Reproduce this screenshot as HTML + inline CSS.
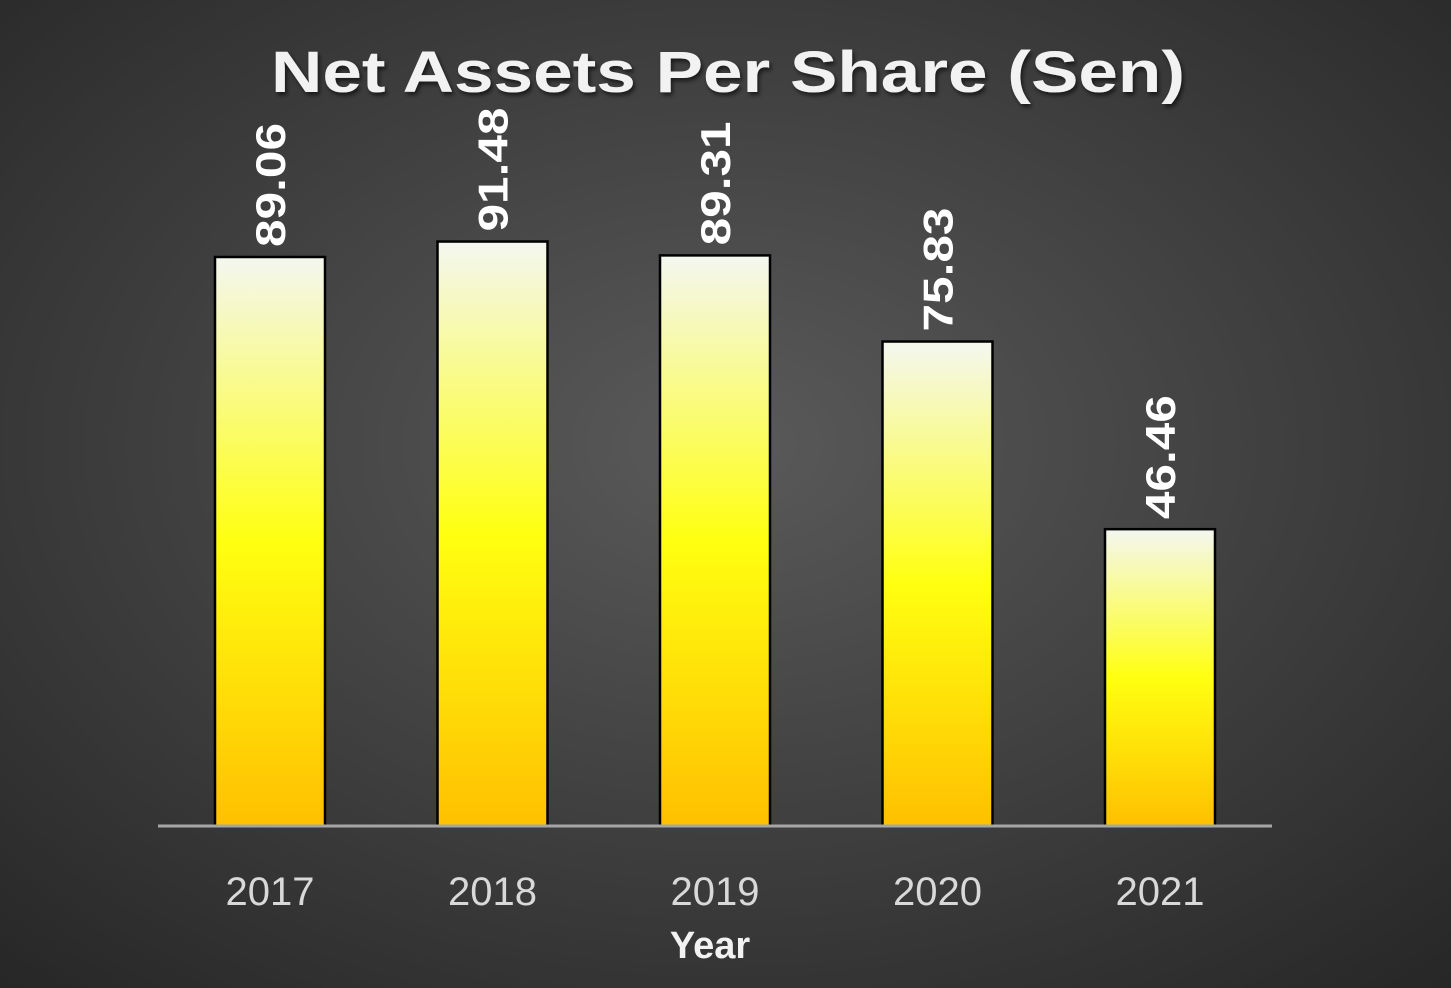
<!DOCTYPE html>
<html><head><meta charset="utf-8"><style>
html,body{margin:0;padding:0;width:1451px;height:988px;overflow:hidden;background:#333;}
svg{display:block;font-family:"Liberation Sans",sans-serif;}
</style></head><body>
<svg id="chart" width="1451" height="988" viewBox="0 0 1451 988" xmlns="http://www.w3.org/2000/svg">
<defs>
<radialGradient id="bg" cx="50%" cy="45%" r="75%">
<stop offset="0" stop-color="#5a5a5a"/><stop offset="1" stop-color="#262626"/>
</radialGradient>
<linearGradient id="barg" x1="0" y1="0" x2="0" y2="1">
<stop offset="0" stop-color="#f4f7f0"/><stop offset="0.5" stop-color="#ffff10"/><stop offset="1" stop-color="#ffc000"/>
</linearGradient>
<filter id="sh"><feDropShadow dx="2" dy="3" stdDeviation="2" flood-color="#000" flood-opacity="0.6"/></filter>
</defs>
<rect x="0" y="0" width="1451" height="988" fill="url(#bg)"/>
<text x="728" y="92" text-anchor="middle" font-size="58" font-weight="bold" fill="#f2f2f2" textLength="914" lengthAdjust="spacingAndGlyphs" filter="url(#sh)">Net Assets Per Share (Sen)</text>
<g id="bars"></g>
<line x1="158" y1="826" x2="1272" y2="826" stroke="#a6a6a6" stroke-width="3"/>
<text x="710" y="958" text-anchor="middle" font-size="38" font-weight="bold" fill="#f2f2f2">Year</text>
</svg>
<script>
const categories = ["2017","2018","2019","2020","2021"];
const values = [89.06, 91.48, 89.31, 75.83, 46.46];
const valueLabels = ["89.06","91.48","89.31","75.83","46.46"];
const NS = "http://www.w3.org/2000/svg";
const baseY = 826, pxPerUnit = 6.389;
function yScale(v){ return baseY - v*pxPerUnit; }
function xCenter(i){ return 270 + i*222.5; }
const g = document.getElementById("bars");
categories.forEach((c,i)=>{
  const cx = xCenter(i), top = yScale(values[i]);
  const r = document.createElementNS(NS,"rect");
  
  
  r.setAttribute("x", cx-55); r.setAttribute("y", top);
  r.setAttribute("width", 110); r.setAttribute("height", baseY-top);
  r.setAttribute("fill","url(#barg)"); r.setAttribute("stroke","#000"); r.setAttribute("stroke-width","2.5");
  g.appendChild(r);
  const t = document.createElementNS(NS,"text");
  
  
  const ly = top - 10;
  t.setAttribute("transform","translate("+(cx+15)+","+ly+") rotate(-90)");
  t.setAttribute("font-size","42"); t.setAttribute("font-weight","bold"); t.setAttribute("fill","#ffffff");
  t.setAttribute("textLength","124"); t.setAttribute("lengthAdjust","spacingAndGlyphs");
  t.textContent = valueLabels[i];
  g.appendChild(t);
  const xl = document.createElementNS(NS,"text");
  
  
  xl.setAttribute("x", cx); xl.setAttribute("y", 905);
  xl.setAttribute("text-anchor","middle"); xl.setAttribute("font-size","40"); xl.setAttribute("fill","#d9d9d9");
  xl.textContent = c;
  g.appendChild(xl);
});
</script>
</body></html>
